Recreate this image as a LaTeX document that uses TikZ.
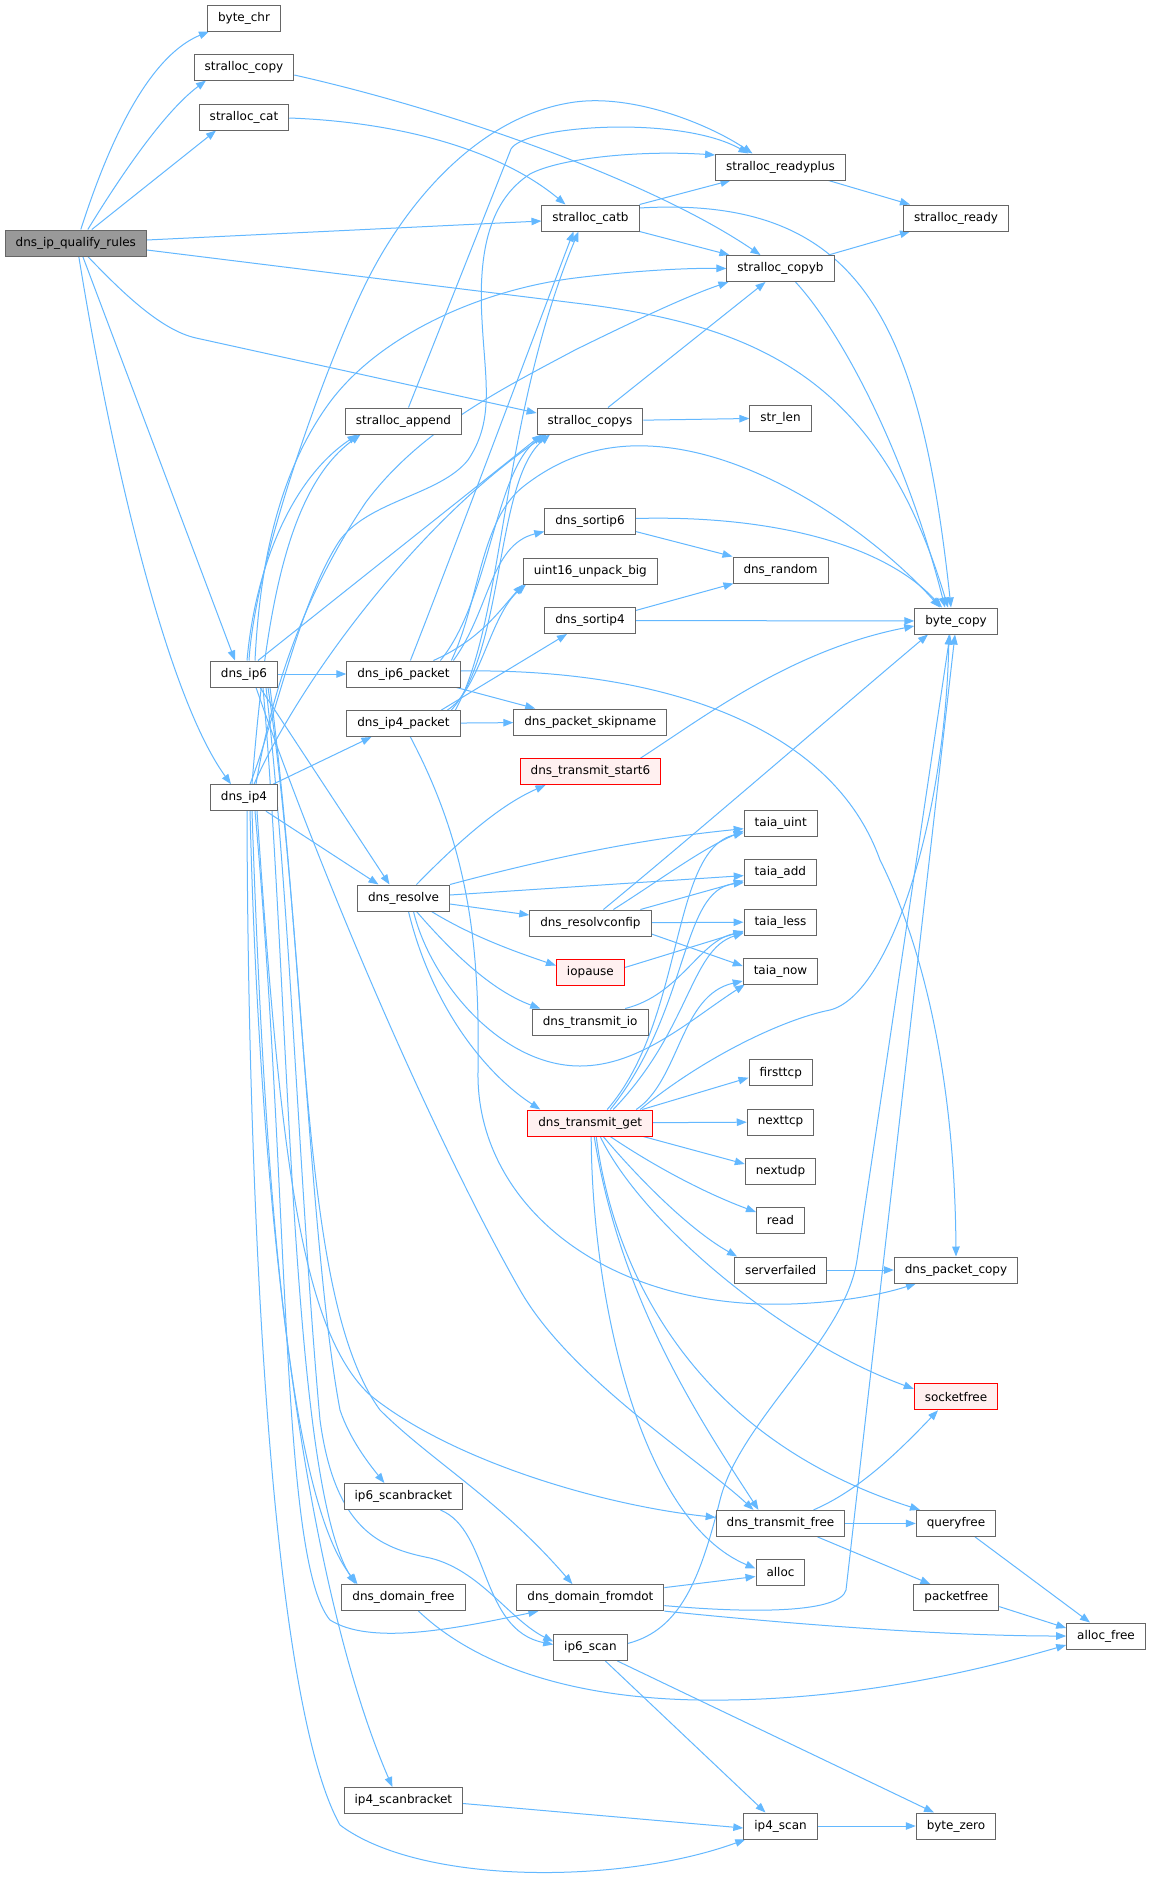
\documentclass[tikz,border=0pt]{standalone}
\usepackage{fontspec}
\setmainfont{DejaVu Sans}
\usetikzlibrary{arrows.meta}
\definecolor{edgec}{HTML}{63B8FF}
\definecolor{nodeb}{HTML}{666666}
\definecolor{rootf}{HTML}{999999}
\definecolor{redb}{HTML}{FF0000}
\definecolor{redf}{HTML}{FFF0F0}
\pgfdeclarelayer{back}
\pgfdeclarelayer{edges}
\pgfsetlayers{back,edges,main}
\tikzset{
  fn/.style={draw=nodeb, fill=white, line width=1pt, minimum height=26pt,
    inner xsep=10.5pt, inner ysep=0pt, text=black, font=\fontsize{12}{14}\selectfont},
  rootfn/.style={fn, fill=rootf},
  redfn/.style={fn, draw=redb, fill=redf},
  cg/.style={draw=edgec, line width=1pt, -{Triangle[length=10pt,width=7.5pt]}, fill=none},
}
\begin{document}
\begin{tikzpicture}[x=1pt,y=-1pt]
\begin{pgfonlayer}{back}
\fill[white] (0,0) rectangle (1149,1890);
\end{pgfonlayer}
\path[use as bounding box] (0,0) rectangle (1149,1890);

% nodes
\node[rootfn] (root) at (75.8,243) {dns\_ip\_qualify\_rules};
\node[fn] (bchr) at (244,18) {byte\_chr};
\node[fn] (scopy) at (244,67) {stralloc\_copy};
\node[fn] (scat) at (244,117) {stralloc\_cat};
\node[fn] (rdyp) at (780.5,167) {stralloc\_readyplus};
\node[fn] (catb) at (590.5,218) {stralloc\_catb};
\node[fn] (rdy) at (956,218) {stralloc\_ready};
\node[fn] (copyb) at (780.5,268.5) {stralloc\_copyb};
\node[fn] (append) at (403.5,421) {stralloc\_append};
\node[fn] (copys) at (590,421) {stralloc\_copys};
\node[fn] (strlen) at (780.5,418) {str\_len};
\node[fn] (sort6) at (590,521.5) {dns\_sortip6};
\node[fn] (random) at (780.5,570) {dns\_random};
\node[fn] (u16) at (590.4,571) {uint16\_unpack\_big};
\node[fn] (sort4) at (590,620.5) {dns\_sortip4};
\node[fn] (bcopy) at (956,621) {byte\_copy};
\node[fn] (ip6) at (244,674) {dns\_ip6};
\node[fn] (ip6p) at (403.4,674) {dns\_ip6\_packet};
\node[fn] (ip4p) at (403.4,723.5) {dns\_ip4\_packet};
\node[fn] (skip) at (590.2,722) {dns\_packet\_skipname};
\node[redfn] (start6) at (590.5,771.6) {dns\_transmit\_start6};
\node[fn] (ip4) at (244,797.7) {dns\_ip4};
\node[fn] (uint) at (780.7,823.7) {taia\_uint};
\node[fn] (add) at (780.4,872.6) {taia\_add};
\node[fn] (resolve) at (403.5,898) {dns\_resolve};
\node[fn] (rconf) at (590.4,923) {dns\_resolvconfip};
\node[fn] (less) at (780.5,922) {taia\_less};
\node[redfn] (iopause) at (590.4,972.5) {iopause};
\node[fn] (now) at (780.5,971) {taia\_now};
\node[fn] (tio) at (590.2,1022) {dns\_transmit\_io};
\node[fn] (ftcp) at (780.7,1072.7) {firsttcp};
\node[redfn] (tget) at (590.2,1123) {dns\_transmit\_get};
\node[fn] (ntcp) at (780.5,1122) {nexttcp};
\node[fn] (nudp) at (780.5,1171) {nextudp};
\node[fn] (read) at (780.5,1220) {read};
\node[fn] (sfail) at (780.7,1270) {serverfailed};
\node[fn] (pcopy) at (956,1270) {dns\_packet\_copy};
\node[redfn] (sockf) at (956,1396.8) {socketfree};
\node[fn] (s6b) at (403.4,1496.5) {ip6\_scanbracket};
\node[fn] (tfree) at (780.5,1523.4) {dns\_transmit\_free};
\node[fn] (qfree) at (956,1523.4) {queryfree};
\node[fn] (alloc) at (780.5,1572.5) {alloc};
\node[fn] (dfree) at (403.5,1597.6) {dns\_domain\_free};
\node[fn] (fromdot) at (590.4,1597.6) {dns\_domain\_fromdot};
\node[fn] (pfree) at (956.4,1597.6) {packetfree};
\node[fn] (afree) at (1106,1636) {alloc\_free};
\node[fn] (ip6s) at (590.4,1647.5) {ip6\_scan};
\node[fn] (s4b) at (403.4,1800.5) {ip4\_scanbracket};
\node[fn] (ip4s) at (780.5,1826) {ip4\_scan};
\node[fn] (bzero) at (956,1826) {byte\_zero};

\begin{pgfonlayer}{edges}
% root
\draw[cg] ([xshift=5pt]root.north) .. controls (100,170) and (140,60) .. ([xshift=-35pt]bchr.south);
\draw[cg] ([xshift=12pt]root.north) .. controls (112,190) and (160,115) .. ([xshift=-38pt]scopy.south);
\draw[cg] ([xshift=16pt]root.north) -- ([xshift=-28pt]scat.south);
\draw[cg] ([yshift=3pt]root.east) -- ([yshift=-3pt]catb.west);
\draw[cg] ([yshift=-7pt]root.east) -- (575,303) .. controls (760,325) and (880,380) .. ([xshift=-8pt]bcopy.north);
\draw[cg] ([xshift=12pt]root.south) .. controls (120,290) and (160,330) .. (196,338) -- ([yshift=8pt]copys.west);
\draw[cg] ([xshift=7pt]root.south) -- ([xshift=-9pt]ip6.north);
\draw[cg] ([xshift=3pt]root.south) .. controls (115,480) and (170,700) .. ([xshift=-13pt]ip4.north);
% stralloc
\draw[cg] ([yshift=-8pt]scopy.east) .. controls (450,110) and (650,180) .. ([xshift=-20pt]copyb.north);
\draw[cg] ([yshift=-1pt]scat.east) .. controls (400,122) and (500,150) .. ([xshift=-25pt]catb.north);
\draw[cg] (catb.north east) -- ([xshift=-50pt]rdyp.south);
\draw[cg] (catb.south east) -- ([xshift=3pt]copyb.north west);
\draw[cg] ([yshift=10pt]catb.east) .. controls (860,195) and (920,320) .. ([xshift=-5pt]bcopy.north);
\draw[cg] ([xshift=48pt]rdyp.south) -- ([xshift=-46pt]rdy.north);
\draw[cg] ([xshift=48pt]copyb.north) -- ([xshift=-46pt]rdy.south);
\draw[cg] ([xshift=15pt]copyb.south) .. controls (840,330) and (905,450) .. ([xshift=-11pt]bcopy.north);
\draw[cg] ([xshift=18pt]copys.north) -- ([xshift=-15pt]copyb.south);
\draw[cg] (copys) -- (strlen);
\draw[cg] ([xshift=5pt]append.north) -- (511,149) .. controls (525,125) and (680,115) .. ([xshift=-32pt]rdyp.north);
\draw[cg] ([yshift=3pt]sort6.east) .. controls (760,515) and (880,540) .. ([xshift=-14pt]bcopy.north);
\draw[cg] ([yshift=-10pt]sort6.east) -- ([xshift=-48pt]random.north);
\draw[cg] ([yshift=10pt]sort4.east) -- ([xshift=-47pt]random.south);
\draw[cg] (sort4) -- (bcopy);
% packets
\draw[cg] (ip6) -- (ip6p);
\draw[cg] ([xshift=7pt]ip6p.north) .. controls (450,560) and (540,320) .. ([xshift=-17pt]catb.south);
\draw[cg] ([xshift=52pt]ip4p.north) .. controls (505,620) and (500,420) .. ([xshift=-12pt]catb.south);
\draw[cg] ([xshift=37pt]ip6p.north) .. controls (490,600) and (495,470) .. ([xshift=-45pt]copys.south);
\draw[cg] ([xshift=48pt]ip4p.north) .. controls (505,650) and (495,480) .. ([xshift=-40pt]copys.south);
\draw[cg] ([xshift=50pt]ip6p.north) .. controls (490,610) and (490,545) .. ([yshift=-10pt]sort6.west);
\draw[cg] ([xshift=30pt]ip6p.north) .. controls (480,640) and (500,610) .. (u16.south west);
\draw[cg] ([xshift=44pt]ip4p.north) .. controls (480,690) and (490,615) .. ([xshift=3pt]u16.south west);
\draw[cg] ([yshift=3pt]ip6p.east) .. controls (650,668) and (830,720) .. (880,860) .. controls (930,960) and (955,1100) .. (pcopy.north);
\draw[cg] ([xshift=53pt]ip6p.south) -- ([xshift=-55pt]skip.north);
\draw[cg] (ip4p) -- (skip);
\draw[cg] ([xshift=38pt]ip4p.north) -- ([xshift=-23pt]sort4.south);
\draw[cg] ([xshift=7pt]ip4p.south) .. controls (470,850) and (480,950) .. (478,1072) .. controls (476,1200) and (600,1310) .. (791,1304) .. controls (850,1302) and (890,1292) .. ([xshift=-40pt]pcopy.south);
\draw[cg] ([xshift=48pt]ip6p.north) .. controls (480,600) and (480,520) .. (524,486) .. controls (560,458) and (600,444) .. (648,446) .. controls (760,450) and (880,540) .. ([xshift=-16pt]bcopy.north);
% ip4 / ip6 upward
\draw[cg] ([xshift=29pt]ip4.north) -- ([xshift=-32pt]ip4p.south);
\draw[cg] ([xshift=16pt]ip6.south) -- ([xshift=-14pt]resolve.north);
\draw[cg] ([xshift=22pt]ip4.south) -- ([xshift=-25pt]resolve.north);
\draw[cg] ([xshift=5pt]ip6.north) .. controls (255,560) and (327,361) .. (367,281) .. controls (407,201) and (480,115) .. (575,102) .. controls (635,94) and (710,125) .. ([xshift=-28pt]rdyp.north);
\draw[cg] ([xshift=6pt]ip4.north) .. controls (275,720) and (300,600) .. (340,540) .. controls (370,500) and (440,495) .. (468,460) .. controls (495,420) and (485,380) .. (482,320) .. controls (478,250) and (490,200) .. (530,174) .. controls (560,158) and (640,150) .. ([yshift=12pt]rdyp.west);
\draw[cg] ([xshift=3pt]ip6.north) .. controls (255,570) and (290,480) .. ([xshift=-46pt]append.south);
\draw[cg] ([xshift=8pt]ip4.north) .. controls (265,620) and (285,490) .. ([xshift=-43pt]append.south);
\draw[cg] ([xshift=14pt]ip6.north) -- ([xshift=-48pt]copys.south);
\draw[cg] ([xshift=10pt]ip4.north) .. controls (300,680) and (420,520) .. ([xshift=-43pt]copys.south);
\draw[cg] ([xshift=11pt]ip6.north) .. controls (260,560) and (280,470) .. (330,402) .. controls (380,335) and (480,290) .. (575,278) .. controls (640,270) and (690,268) .. (copyb.west);
\draw[cg] ([xshift=12pt]ip4.north) .. controls (270,700) and (300,600) .. (366,502) .. controls (420,430) and (500,390) .. (575,350) .. controls (640,318) and (690,295) .. ([xshift=2pt]copyb.south west);
% resolve
\draw[cg] ([xshift=13pt]resolve.north) .. controls (460,840) and (500,805) .. ([xshift=-45pt]start6.south);
\draw[cg] (resolve.north east) .. controls (560,855) and (650,838) .. ([yshift=-5pt]uint.west);
\draw[cg] ([yshift=3pt]resolve.east) -- ([yshift=-3pt]add.west);
\draw[cg] ([yshift=-6pt]resolve.east) -- ([yshift=8pt]rconf.west);
\draw[cg] ([xshift=28pt]resolve.south) .. controls (470,935) and (510,950) .. ([yshift=7pt]iopause.west);
\draw[cg] ([xshift=13pt]resolve.south) .. controls (450,950) and (490,990) .. ([xshift=-50pt]tio.north);
\draw[cg] ([xshift=10pt]resolve.south) .. controls (430,980) and (500,1066) .. (580,1066) .. controls (640,1066) and (690,1020) .. ([xshift=2pt]now.south west);
\draw[cg] ([xshift=5pt]resolve.south) .. controls (430,1000) and (480,1070) .. ([xshift=-50pt]tget.north);
% resolvconfip etc
\draw[cg] ([xshift=13pt]rconf.north) .. controls (700,830) and (850,700) .. ([xshift=-28pt]bcopy.south);
\draw[cg] ([xshift=23pt]rconf.north) .. controls (660,880) and (700,850) .. ([yshift=-7pt]uint.west);
\draw[cg] ([xshift=50pt]rconf.north) -- ([yshift=-8pt]add.west);
\draw[cg] (rconf) -- (less);
\draw[cg] ([yshift=-11pt]rconf.east) -- ([yshift=5pt]now.west);
\draw[cg] ([yshift=5pt]iopause.east) -- ([yshift=-9pt]less.west);
\draw[cg] ([xshift=35pt]tio.north) .. controls (680,995) and (700,940) .. ([yshift=-10pt]less.west);
\draw[cg] ([xshift=50pt]start6.north) .. controls (700,720) and (790,650) .. ([yshift=-5pt]bcopy.west);
% transmit_get
\draw[cg] ([xshift=17pt]tget.north) .. controls (685,1020) and (670,850) .. ([yshift=-9pt]uint.west);
\draw[cg] ([xshift=20pt]tget.north) .. controls (690,1010) and (680,890) .. ([yshift=-10pt]add.west);
\draw[cg] ([xshift=23pt]tget.north) .. controls (690,1030) and (690,950) .. ([yshift=-11pt]less.west);
\draw[cg] ([xshift=46pt]tget.north) .. controls (680,1080) and (680,995) .. ([yshift=-10pt]now.west);
\draw[cg] ([xshift=50pt]tget.north) .. controls (700,1060) and (780,1020) .. (830,1010) .. controls (890,995) and (945,820) .. ([xshift=-7pt]bcopy.south);
\draw[cg] ([xshift=52pt]tget.north) -- ([yshift=-5pt]ftcp.west);
\draw[cg] (tget) -- (ntcp);
\draw[cg] ([xshift=53pt]tget.south) -- ([yshift=7pt]nudp.west);
\draw[cg] ([xshift=20pt]tget.south) .. controls (660,1170) and (710,1195) .. ([yshift=8pt]read.west);
\draw[cg] ([xshift=13pt]tget.south) .. controls (640,1180) and (690,1230) .. ([xshift=3pt]sfail.north west);
\draw[cg] ([xshift=10pt]tget.south) .. controls (640,1220) and (780,1340) .. ([yshift=8pt]sockf.west);
\draw[cg] ([xshift=6pt]tget.south) .. controls (615,1280) and (700,1440) .. ([xshift=-36pt]qfree.north);
\draw[cg] ([xshift=4pt]tget.south) .. controls (620,1300) and (700,1420) .. ([xshift=-22pt]tfree.north);
\draw[cg] ([xshift=1pt]tget.south) .. controls (592,1300) and (640,1520) .. ([yshift=4pt]alloc.west);
% lower right
\draw[cg] (sfail) -- (pcopy);
\draw[cg] (tfree) -- (qfree);
\draw[cg] ([xshift=33pt]tfree.north) .. controls (860,1490) and (900,1450) .. ([xshift=-18pt]sockf.south);
\draw[cg] ([xshift=37pt]tfree.south) -- ([xshift=-26pt]pfree.north);
\draw[cg] ([xshift=19pt]qfree.south) -- ([xshift=-16pt]afree.north);
\draw[cg] ([yshift=-9pt]pfree.east) -- ([yshift=8pt]afree.west);
\draw[cg] ([yshift=10pt]fromdot.east) -- ([yshift=-4pt]alloc.west);
\draw[cg] (fromdot.south east) .. controls (800,1625) and (950,1636) .. (afree.west);
\draw[cg] ([yshift=-8pt]fromdot.east) .. controls (760,1614) and (840,1612) .. (846,1590) -- ([xshift=-1pt]bcopy.south);
\draw[cg] ([yshift=4pt]ip6s.east) .. controls (680,1630) and (700,1580) .. (720,1500) .. controls (740,1420) and (845,1340) .. (857,1260) -- ([xshift=-6pt]bcopy.south);
\draw[cg] (ip4s) -- (bzero);
\draw[cg] ([xshift=15pt]ip6s.south) -- ([xshift=-15pt]ip4s.north);
\draw[cg] ([xshift=27pt]ip6s.south) -- ([xshift=-22pt]bzero.north);
\draw[cg] ([yshift=-3pt]s4b.east) -- ([yshift=-2pt]ip4s.west);
\draw[cg] ([xshift=37pt]s6b.south) .. controls (490,1530) and (480,1630) .. ([yshift=3pt]ip6s.west);
\draw[cg] ([xshift=15pt]dfree.south) .. controls (470,1660) and (560,1698) .. (700,1700) .. controls (850,1702) and (980,1670) .. ([yshift=-9pt]afree.west);
% ip6 downward
\draw[cg] ([xshift=24pt]ip6.south) .. controls (300,900) and (310,1250) .. (340,1410) .. controls (350,1440) and (370,1465) .. ([xshift=-19pt]s6b.north);
\draw[cg] ([xshift=22pt]ip6.south) .. controls (290,900) and (300,1200) .. (320,1420) .. controls (335,1530) and (380,1548) .. (430,1558) .. controls (480,1570) and (510,1620) .. ([yshift=6pt]ip6s.west);
\draw[cg] ([xshift=26pt]ip6.south) .. controls (310,1000) and (300,1300) .. (380,1410) .. controls (430,1460) and (500,1500) .. ([xshift=-18pt]fromdot.north);
\draw[cg] ([xshift=19pt]ip6.south) .. controls (290,1000) and (290,1480) .. ([xshift=-48pt]dfree.north);
\draw[cg] ([xshift=12pt]ip6.south) .. controls (330,900) and (440,1150) .. (520,1290) .. controls (570,1378) and (700,1460) .. ([xshift=-27pt]tfree.north);
% ip4 downward
\draw[cg] ([xshift=3pt]ip4.south) .. controls (248,1200) and (270,1700) .. (340,1825) .. controls (420,1885) and (620,1885) .. ([xshift=2pt]ip4s.south west);
\draw[cg] ([xshift=6pt]ip4.south) .. controls (262,1300) and (320,1620) .. ([xshift=-11pt]s4b.north);
\draw[cg] ([xshift=8pt]ip4.south) .. controls (265,1200) and (290,1500) .. ([xshift=-46pt]dfree.north);
\draw[cg] ([xshift=11pt]ip4.south) .. controls (290,1200) and (280,1560) .. (330,1620) .. controls (370,1645) and (450,1630) .. ([xshift=-52pt]fromdot.south);
\draw[cg] ([xshift=13pt]ip4.south) .. controls (280,1150) and (300,1330) .. (370,1395) .. controls (450,1460) and (600,1505) .. ([yshift=6pt]tfree.west);
\end{pgfonlayer}
\end{tikzpicture}
\end{document}
